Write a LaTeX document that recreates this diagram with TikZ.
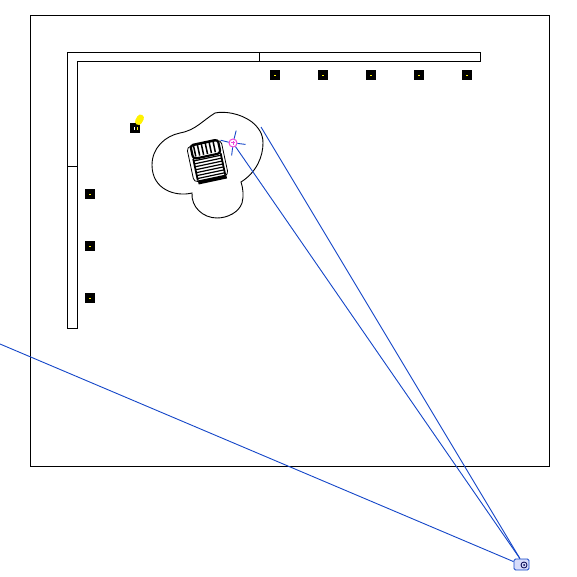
\documentclass[tikz,border=0pt]{standalone}
\usepackage{xcolor}

\definecolor{beam}{RGB}{20,70,200}
\definecolor{pink}{RGB}{240,70,220}
\definecolor{camfill}{RGB}{215,220,250}

\tikzset{
    wall/.style={draw=black, line width=1pt},
    lamp/.style={fill=black, minimum size=10pt, inner sep=0pt},
    ray/.style={draw=beam, line width=0.9pt},
}

\begin{document}
\begin{tikzpicture}[x=1pt, y=-1pt]
    \useasboundingbox (0,0) rectangle (577,577);

    % Room outline
    \draw[wall] (30.5,15.5) rectangle (549.5,466.5);

    % Walls
    \draw[wall] (67.5,328.5) -- (67.5,52.5) -- (480.5,52.5) -- (480.5,61.5) -- (77.5,61.5) -- (77.5,328.5) -- cycle;
    \draw[wall] (259.5,52.5) -- (259.5,61.5);
    \draw[wall] (67.5,166.5) -- (77.5,166.5);

    % Lamps
    \foreach \x/\y in {275/75, 323/75, 371/75, 419/75, 467/75, 90/194, 90/246, 90/298} {
        \node[lamp] (lamp\x\y) at (\x,\y) {};
        \fill[yellow] (\x-1,\y) rectangle (\x+1,\y+1);
    }
    \node[lamp] (lampdesk) at (135,128) {};
    \fill[white] (133.5,127) rectangle (134.5,130);
    \fill[yellow] (136.5,127) rectangle (137.5,130);
    \draw[yellow, line width=7pt, line cap=round] (138.5,121.5) -- (140.5,118);

    % Light area
    \draw[line width=0.9pt] (215,113) .. controls (224,111) and (240,113) .. (252,122)
        .. controls (259,128) and (263,134) .. (263,143)
        .. controls (263,156) and (257,172) .. (241,182)
        .. controls (243,188) and (244,196) .. (242,203)
        .. controls (239,212) and (228,218) .. (217,218)
        .. controls (203,218) and (191,207) .. (192,193)
        .. controls (176,197) and (152,190) .. (152,165)
        .. controls (152,148) and (165,136) .. (180,133)
        .. controls (196,130) and (202,121) .. (215,113) -- cycle;

    % Chair
    \begin{scope}[shift={(208,161)}, rotate=12]
        \draw[line width=0.8pt, rounded corners=4pt] (-18,-18) rectangle (17,18);
        \draw[line width=2.2pt, rounded corners=3pt] (-14,-19) rectangle (14,-5);
        \foreach \x in {-11,-7,...,11}
            \draw[line width=1.5pt] (\x,-19) -- (\x,-7);
        \draw[line width=1.8pt] (-14,-5) -- (-14,17) (14,-5) -- (14,17);
        \foreach \y in {-3,0,...,15}
            \draw[line width=1.2pt] (-14,\y) -- (14,\y);
        \draw[line width=4pt] (-14,19) -- (15,19);
    \end{scope}

    % Camera
    \node[draw=beam, fill=camfill, line width=0.9pt, rounded corners=1.5pt,
        minimum width=15pt, minimum height=11pt, inner sep=0pt] (camera) at (521.5,564.5) {};
    \node[draw=black!70!blue, circle, line width=0.8pt, minimum size=6pt, inner sep=0pt] (lens) at (524,565) {};
    \fill[black!70!blue] (lens) circle (1pt);

    % Sensor
    \node[draw=pink, fill=white, circle, line width=1pt, minimum size=8pt, inner sep=0pt] (sensor) at (233,143) {};
    \draw[pink, line width=1pt] (231,143) -- (235,143) (233,141) -- (233,145);
    \foreach \a/\dx/\dy in {75/2/-8, 170/-8/-2, 265/-1/8, 355/8/1}
        \draw[ray] (sensor.\a) -- ++(\dx,\dy);

    % Rays
    \coordinate (raytop) at (261,127);
    \coordinate (rayfar) at (0,344);
    \draw[ray] (raytop) -- (camera.105);
    \draw[ray] (sensor) -- (camera.105);
    \draw[ray] (rayfar) -- (camera.160);
\end{tikzpicture}
\end{document}
